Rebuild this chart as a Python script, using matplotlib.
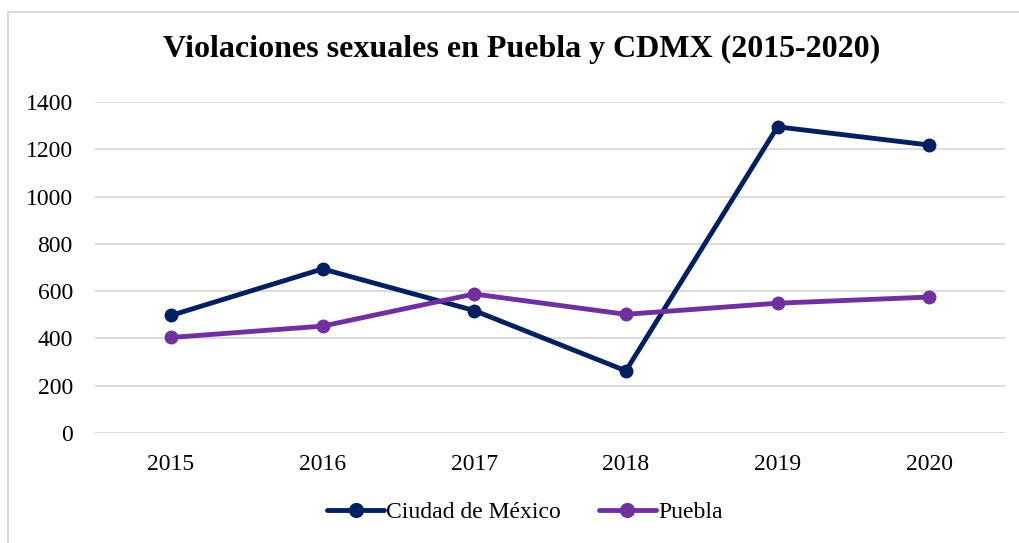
import matplotlib.pyplot as plt
from matplotlib.patches import Rectangle

years = ['2015', '2016', '2017', '2018', '2019', '2020']
cdmx = [497, 694, 518, 263, 1295, 1218]
puebla = [404, 452, 588, 502, 549, 575]

plt.rcParams['font.family'] = ['Liberation Serif', 'DejaVu Serif']

fig = plt.figure(figsize=(10.19, 5.43), dpi=100)
ax = fig.add_axes([95 / 1019, 1 - 433 / 543, 910 / 1019, 331 / 543])

# light chart border (left/top edges visible)
fig.patches.append(Rectangle((8 / 1019, -0.05), 1.2, 1 - 12 / 543 + 0.05,
                             transform=fig.transFigure, fill=False,
                             edgecolor='#d9d9d9', linewidth=1.5))

x = range(len(years))
ax.plot(x, cdmx, color='#002060', linewidth=3.5, marker='o', markersize=9,
        label='Ciudad de México', solid_capstyle='round')
ax.plot(x, puebla, color='#7030A0', linewidth=3.5, marker='o', markersize=9,
        label='Puebla', solid_capstyle='round')

ax.set_xlim(-0.5, len(years) - 0.5)
ax.set_ylim(0, 1400)
ax.set_yticks(range(0, 1401, 200))
ax.set_xticks(list(x))
ax.set_xticklabels(years)
ax.tick_params(axis='both', length=0, labelsize=17, colors='black')
ax.tick_params(axis='y', pad=16)
ax.tick_params(axis='x', pad=15)
ax.grid(axis='y', color='#d9d9d9', linewidth=1.3)
ax.set_axisbelow(True)
for s in ax.spines.values():
    s.set_visible(False)

fig.text(522 / 1019, 1 - 49 / 543, 'Violaciones sexuales en Puebla y CDMX (2015-2020)',
         ha='center', va='center', fontsize=23, fontweight='bold')

fig.legend(loc='center', bbox_to_anchor=(525 / 1019, 1 - 512 / 543), ncol=2,
           frameon=False, fontsize=17, handlelength=2.4, handletextpad=0.1,
           columnspacing=1.6, markerscale=1.1)

fig.savefig('out.png', dpi=100)
